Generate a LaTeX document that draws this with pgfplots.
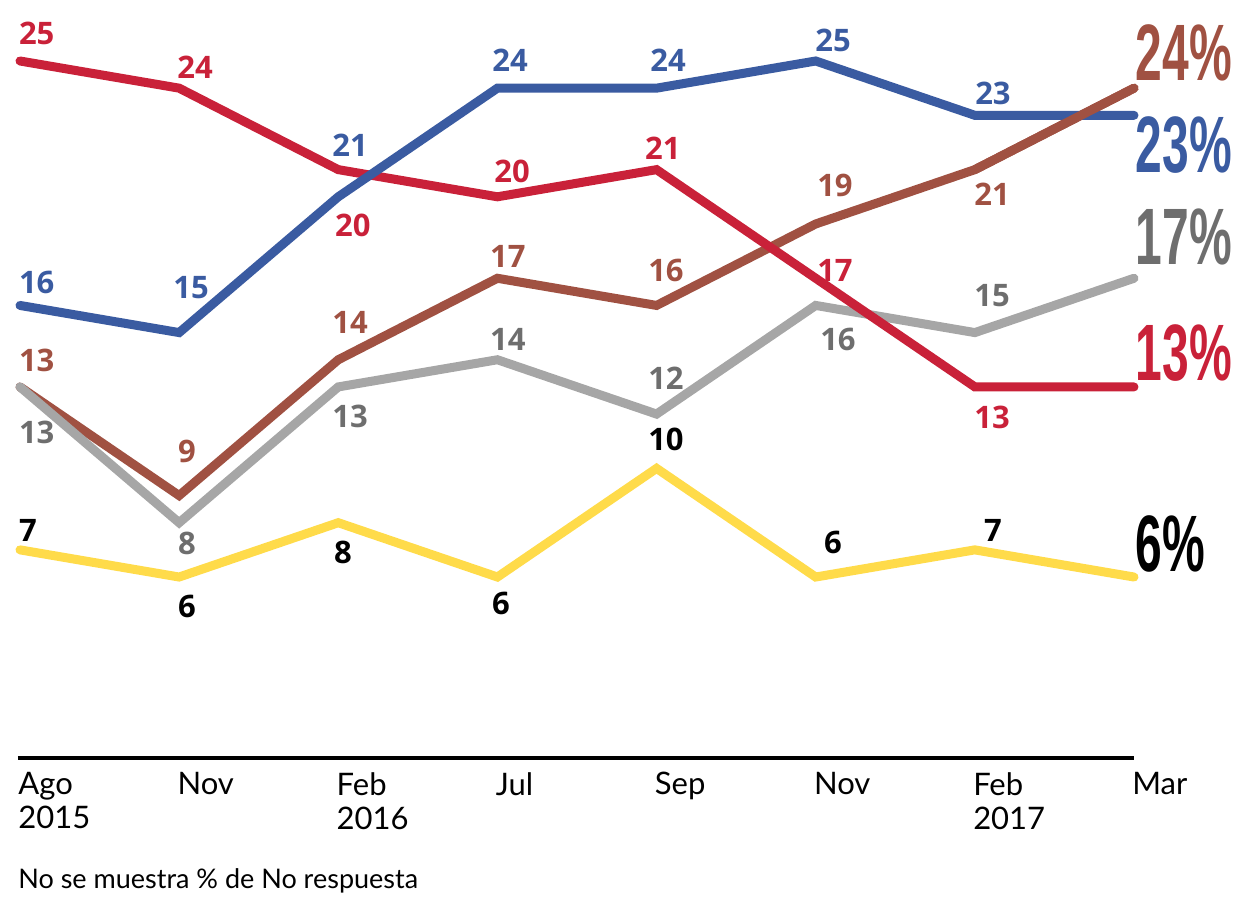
\documentclass[border=0pt]{standalone}
\usepackage{pgfplots}
\pgfplotsset{compat=1.18}
\usepackage{graphicx}
\usepackage{fontspec}
\setmainfont{Lato}
\newfontfamily\labfont{Open Sans}
\newfontfamily\bigfont{Liberation Sans}

\definecolor{cred}{HTML}{C92139}
\definecolor{cblue}{HTML}{3A5BA1}
\definecolor{cbrown}{HTML}{A05142}
\definecolor{cgray}{HTML}{A6A6A6}
\definecolor{cgraytxt}{HTML}{6E6E6E}
\definecolor{cyellow}{HTML}{FFDB4A}

% data labels and final-value labels
\newcommand{\lab}[4]{\node[text=#1, font=\labfont\bfseries\fontsize{15.5}{15.5}\selectfont, inner sep=0pt] at (axis cs:#2,#3) {#4};}
\newcommand{\finlab}[4]{\node[text=#1, anchor=base west, inner sep=0pt] at (axis cs:#2,#3) {\scalebox{0.6}[1]{\bigfont\bfseries\fontsize{40}{40}\selectfont #4}};}

\begin{document}
\begin{tikzpicture}
\begin{axis}[
    scale only axis,
    width=558pt, height=379pt,
    xmin=-0.0126, xmax=7,
    ymin=-0.663, ymax=27.246,
    axis x line*=bottom,
    axis y line=none,
    x axis line style={-, line width=2pt, black},
    xtick={0,...,7},
    xticklabels={{Ago\\2015},Nov,{Feb\\2016},Jul,Sep,Nov,{Feb\\2017},Mar},
    major tick length=0pt,
    xticklabel style={anchor=north west, inner sep=0pt, xshift=-1pt, yshift=-7pt,
        align=left, font=\fontsize{15.5}{17}\selectfont},
    clip=false,
    every axis plot/.append style={line width=4.5pt, line cap=round, line join=miter, mark=none},
]
\path (axis cs:-0.1257,27.246) rectangle (axis cs:7.729,-5.96);

% Otros / NS
\addplot[cyellow] coordinates {(0,7) (1,6) (2,8) (3,6) (4,10) (5,6) (6,7) (7,6)};
% brown
\addplot[cbrown] coordinates {(0,13) (1,9) (2,14) (3,17) (4,16) (5,19) (6,21) (7,24)};
% gray
\addplot[cgray] coordinates {(0,13) (1,8) (2,13) (3,14) (4,12) (5,16) (6,15) (7,17)};
% red
\addplot[cred] coordinates {(0,25) (1,24) (2,21) (3,20) (4,21) (5,17) (6,13) (7,13)};
% blue
\addplot[cblue] coordinates {(0,16) (1,15) (2,20) (3,24) (4,24) (5,25) (6,23) (7,23)};
% brown last stretch drawn over blue
\addplot[cbrown] coordinates {(6,21) (7,24)};

% red labels
\lab{cred}{0.105}{26.03}{25}
\lab{cred}{1.100}{24.78}{24}
\lab{cred}{2.092}{18.96}{20}
\lab{cred}{3.092}{20.95}{20}
\lab{cred}{4.040}{21.80}{21}
\lab{cred}{5.121}{17.30}{17}
\lab{cred}{6.108}{11.89}{13}
% blue labels
\lab{cblue}{0.105}{16.83}{16}
\lab{cblue}{1.075}{16.64}{15}
\lab{cblue}{2.074}{21.91}{21}
\lab{cblue}{3.079}{25.04}{24}
\lab{cblue}{4.072}{25.04}{24}
\lab{cblue}{5.109}{25.77}{25}
\lab{cblue}{6.114}{23.82}{23}
% brown labels
\lab{cbrown}{0.105}{13.99}{13}
\lab{cbrown}{1.049}{10.64}{9}
\lab{cbrown}{2.074}{15.39}{14}
\lab{cbrown}{3.066}{17.82}{17}
\lab{cbrown}{4.059}{17.27}{16}
\lab{cbrown}{5.121}{20.40}{19}
\lab{cbrown}{6.108}{20.10}{21}
% gray labels
\lab{cgraytxt}{0.105}{11.34}{13}
\lab{cgraytxt}{1.049}{7.25}{8}
\lab{cgraytxt}{2.074}{11.93}{13}
\lab{cgraytxt}{3.066}{14.73}{14}
\lab{cgraytxt}{4.059}{13.33}{12}
\lab{cgraytxt}{5.140}{14.73}{16}
\lab{cgraytxt}{6.108}{16.35}{15}
% black labels
\lab{black}{0.050}{7.73}{7}
\lab{black}{1.049}{4.93}{6}
\lab{black}{2.030}{6.92}{8}
\lab{black}{3.022}{5.04}{6}
\lab{black}{4.059}{11.05}{10}
\lab{black}{5.109}{7.29}{6}
\lab{black}{6.114}{7.73}{7}

% final values
\finlab{cbrown}{7.010}{24.30}{24\%}
\finlab{cblue}{7.010}{20.91}{23\%}
\finlab{cgraytxt}{7.010}{17.49}{17\%}
\finlab{cred}{7.010}{13.25}{13\%}
\finlab{black}{7.010}{6.19}{6\%}

\node[anchor=base west, inner sep=0pt, font=\fontsize{13.5}{13.5}\selectfont]
    at (axis cs:-0.013,-5.45) {No se muestra \% de No respuesta};
\end{axis}
\end{tikzpicture}
\end{document}
